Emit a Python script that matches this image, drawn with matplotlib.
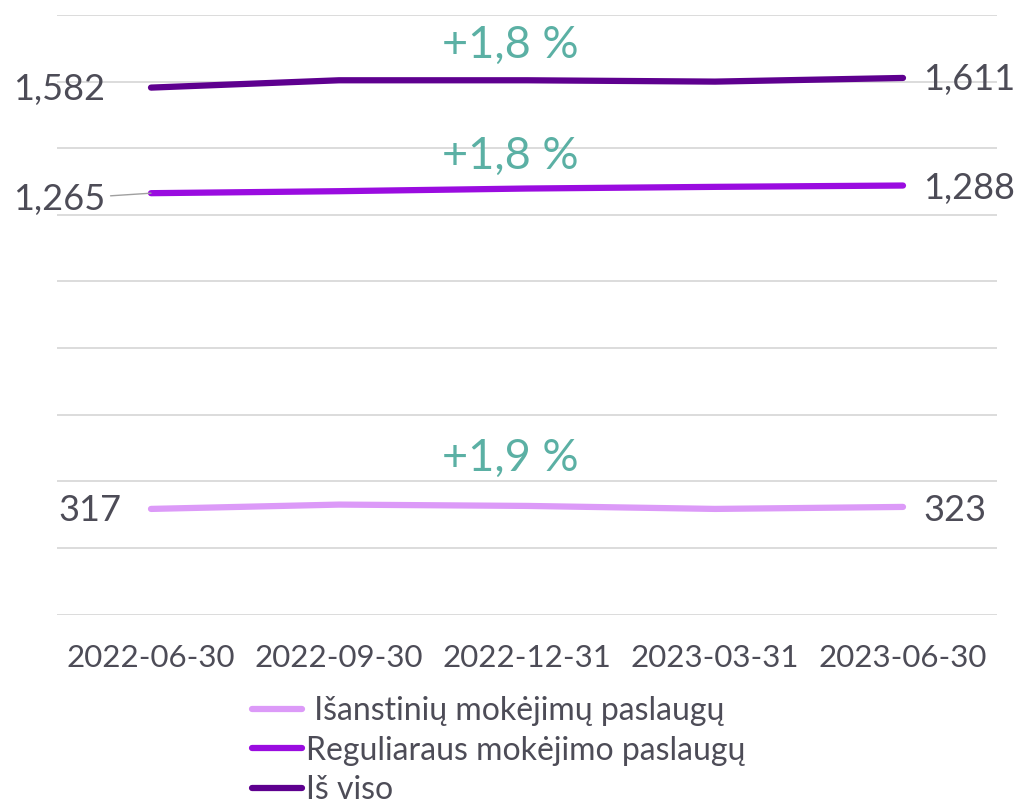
import matplotlib
matplotlib.use("Agg")
import matplotlib.pyplot as plt
from matplotlib.lines import Line2D

categories = ["2022-06-30", "2022-09-30", "2022-12-31", "2023-03-31", "2023-06-30"]
series_names = ["Išanstinių mokėjimų paslaugų", "Reguliaraus mokėjimo paslaugų", "Iš viso"]
prepaid = [317, 330, 326, 317, 323]
regular = [1265, 1271, 1279, 1284, 1288]
total = [1582, 1604, 1604, 1600, 1611]
changes = ["+1,9 %", "+1,8 %", "+1,8 %"]
change_y = [470, 1375, 1710]
colors = ["#dc9af8", "#9a0ce0", "#5e008f"]

plt.rcParams['font.family'] = ['Lato', 'DejaVu Sans']
TXT = "#4d4c57"
GREEN = "#5bb0a4"

fig = plt.figure(figsize=(10.2, 8.07), dpi=100)
ax = fig.add_axes([57/1020, (807-614.5)/807, 940/1020, 599.5/807])
x = list(range(len(categories)))
data = [prepaid, regular, total]
for vals, c in zip(data, colors):
    ax.plot(x, vals, color=c, lw=4.5, solid_capstyle='round', solid_joinstyle='round', zorder=3)

ax.set_xlim(-0.5, len(categories) - 0.5)
ax.set_ylim(0, 1800)
ax.set_yticks(range(0, 1801, 200))
ax.yaxis.grid(True, color="#d9d9d9", lw=1.3)
ax.set_axisbelow(True)
ax.tick_params(axis='y', left=False, labelleft=False)
ax.tick_params(axis='x', bottom=False, labelsize=22.5, labelcolor=TXT, pad=18)
ax.set_xticks(x)
ax.set_xticklabels(categories)
for s in ax.spines.values():
    s.set_visible(False)

fs = 26
# left labels
ax.annotate(f"{total[0]:,}", (0, total[0]), xytext=(-46, -2), textcoords='offset pixels',
            ha='right', va='center', fontsize=fs, color=TXT)
ax.annotate(f"{regular[0]:,}", (0, regular[0]), xytext=(-46, -6), textcoords='offset pixels',
            ha='right', va='center', fontsize=fs, color=TXT,
            arrowprops=dict(arrowstyle='-', color='#a0a0a0', lw=1, shrinkA=2, shrinkB=0))
ax.annotate(f"{prepaid[0]:,}", (0, prepaid[0]), xytext=(-30, -2), textcoords='offset pixels',
            ha='right', va='center', fontsize=fs, color=TXT)
# right labels
for vals, dy in zip(data, [-4, -3, -2]):
    ax.annotate(f"{vals[-1]:,}", (x[-1], vals[-1]), xytext=(20, dy), textcoords='offset pixels',
                ha='left', va='center', fontsize=fs, color=TXT)
# change labels
for txt, yv in zip(changes, change_y):
    ax.annotate(txt, (2, yv), xytext=(-17, 0), textcoords='offset pixels',
                ha='center', va='center', fontsize=32.5, color=GREEN)

handles = [Line2D([0], [0], color=c, lw=4.5, solid_capstyle='round') for c in colors]
labels = [" " + series_names[0], series_names[1], series_names[2]]
fig.legend(handles, labels, loc='upper left', bbox_to_anchor=(252/1020, 1 - 696/807),
           frameon=False, fontsize=23, labelcolor=TXT, handlelength=1.55, handletextpad=0.15,
           labelspacing=0.3, borderaxespad=0, borderpad=0)

fig.savefig("out.png", dpi=100, facecolor="white")
